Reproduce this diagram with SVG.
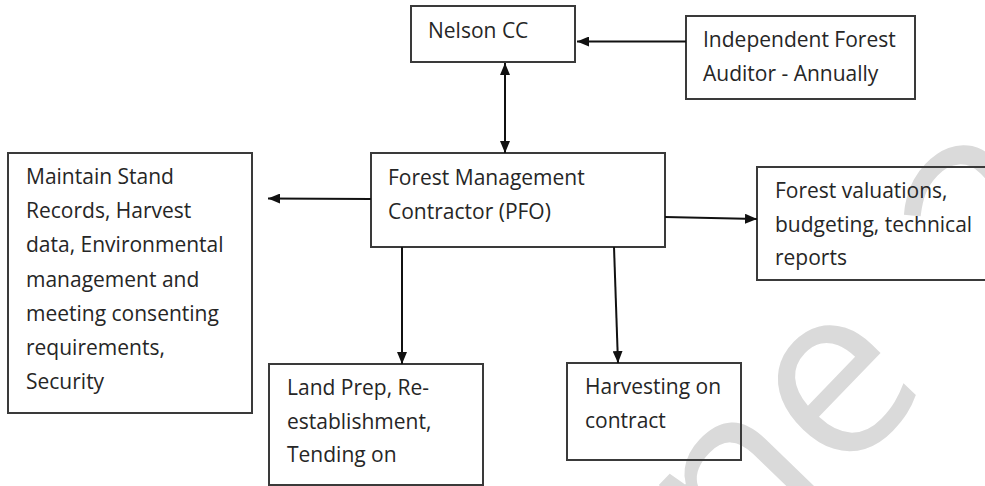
<svg xmlns="http://www.w3.org/2000/svg" width="985" height="486" viewBox="0 0 985 486">
<defs>
<style>
.box{fill:none;stroke:#3a3a3a;stroke-width:2}
.t{font-family:"Open Sans","Liberation Sans",sans-serif;font-size:21px;fill:#262626}
.c{stroke:#111;stroke-width:2;fill:none}
.wm{font-family:"Open Sans","Liberation Sans",sans-serif;font-weight:400;font-size:240px;fill:#dadada}
</style>
<marker id="ah" viewBox="0 0 12 10" refX="12" refY="5" markerWidth="12" markerHeight="10" markerUnits="userSpaceOnUse" orient="auto-start-reverse">
<path d="M0,0 L12,5 L0,10 z" fill="#111"/>
</marker>
</defs>
<rect width="985" height="486" fill="#fff"/>
<g id="watermark">
<text class="wm" transform="translate(737,589) rotate(-46)">ne <tspan dx="27" dy="14">2</tspan></text>
</g>
<g id="nelson">
<rect class="box" x="411" y="6" width="164" height="56"/>
<text class="t" x="428" y="38">Nelson CC</text>
</g>
<g id="auditor">
<rect class="box" x="686" y="16" width="229" height="83"/>
<text class="t" x="703" y="47">Independent Forest</text>
<text class="t" x="703" y="81">Auditor - Annually</text>
</g>
<g id="fmc">
<rect class="box" x="371" y="153" width="294" height="94"/>
<text class="t" x="388" y="185">Forest Management</text>
<text class="t" x="388" y="219">Contractor (PFO)</text>
</g>
<g id="records">
<rect class="box" x="8" y="153" width="244" height="260"/>
<text class="t" x="26" y="184">Maintain Stand</text>
<text class="t" x="26" y="218">Records, Harvest</text>
<text class="t" x="26" y="252">data, Environmental</text>
<text class="t" x="26" y="287">management and</text>
<text class="t" x="26" y="321">meeting consenting</text>
<text class="t" x="26" y="355">requirements,</text>
<text class="t" x="26" y="389">Security</text>
</g>
<g id="valuations">
<rect class="box" x="757" y="167" width="240" height="113"/>
<text class="t" x="775" y="198">Forest valuations,</text>
<text class="t" x="775" y="232">budgeting, technical</text>
<text class="t" x="775" y="265">reports</text>
</g>
<g id="landprep">
<rect class="box" x="269" y="364" width="214" height="121"/>
<text class="t" x="287" y="395">Land Prep, Re-</text>
<text class="t" x="287" y="429">establishment,</text>
<text class="t" x="287" y="462">Tending on</text>
</g>
<g id="harvesting">
<rect class="box" x="567" y="363" width="174" height="97"/>
<text class="t" x="585" y="394">Harvesting on</text>
<text class="t" x="585" y="428">contract</text>
</g>
<g id="connectors">
<line class="c" x1="686" y1="41.5" x2="577" y2="41.5" marker-end="url(#ah)"/>
<line class="c" x1="505" y1="63" x2="505" y2="153" marker-start="url(#ah)" marker-end="url(#ah)"/>
<line class="c" x1="371" y1="199" x2="268" y2="198.5" marker-end="url(#ah)"/>
<line class="c" x1="665" y1="217" x2="757" y2="219" marker-end="url(#ah)"/>
<line class="c" x1="402" y1="247" x2="402" y2="364" marker-end="url(#ah)"/>
<line class="c" x1="614" y1="247" x2="618" y2="363" marker-end="url(#ah)"/>
</g>
</svg>
